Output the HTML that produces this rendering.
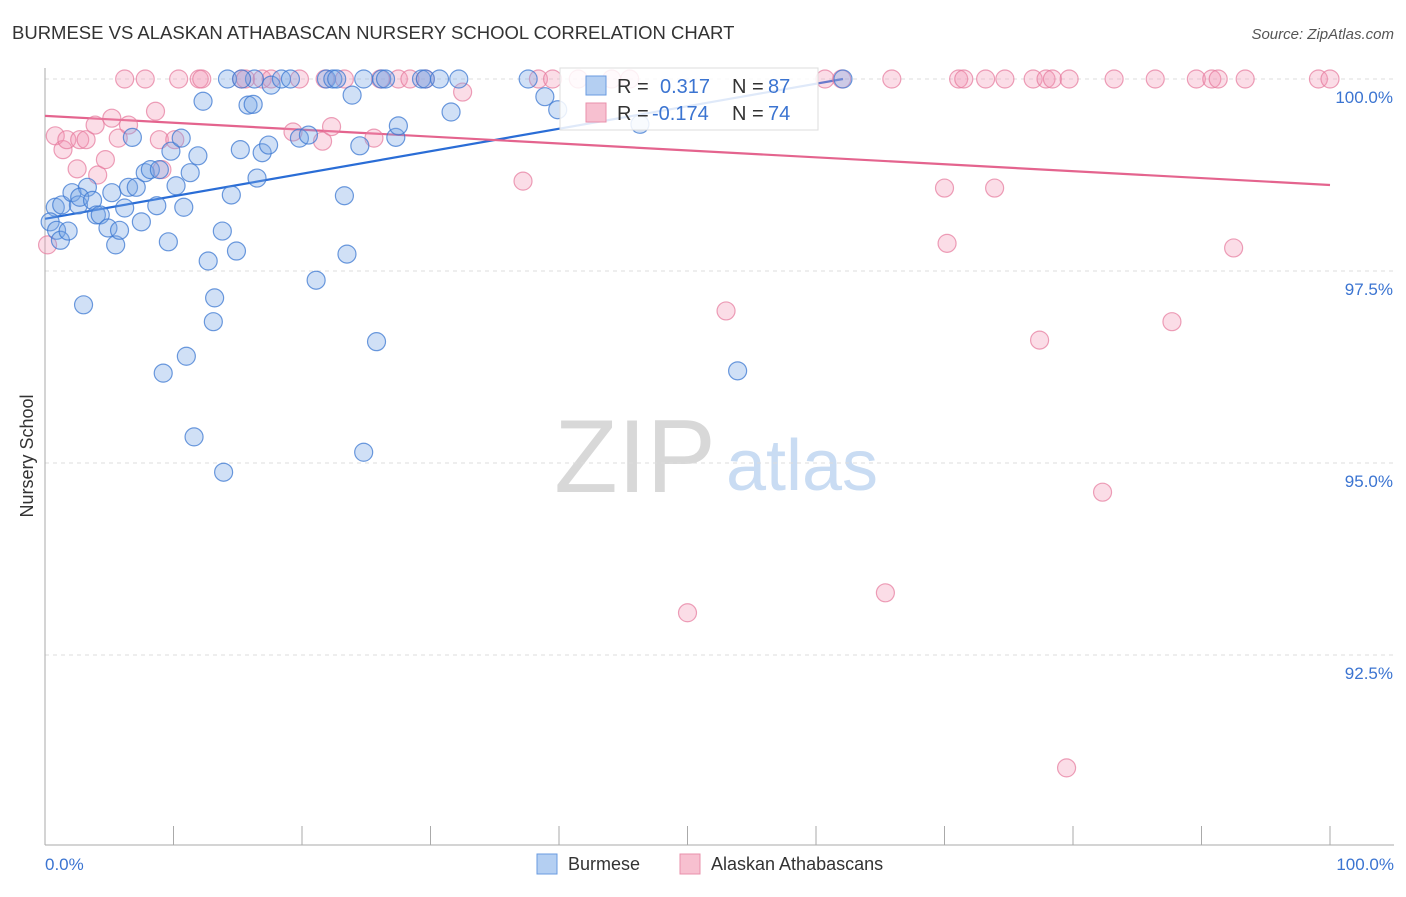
<!DOCTYPE html>
<html><head><meta charset="utf-8"><style>
body{margin:0;background:#fff;font-family:"Liberation Sans",sans-serif;}
svg text{font-family:"Liberation Sans",sans-serif;}
</style></head><body>
<svg id="chart" width="1406" height="892">
<text x="12" y="39" font-size="18.5" fill="#333">BURMESE VS ALASKAN ATHABASCAN NURSERY SCHOOL CORRELATION CHART</text>
<text x="1394" y="39" font-size="15" fill="#555" font-style="italic" text-anchor="end">Source: ZipAtlas.com</text>
<g><text x="635" y="492" font-size="104" fill="#d8d8d8" font-family="Liberation Serif,serif" text-anchor="middle">ZIP</text><text x="802" y="490" font-size="72" fill="#c9dcf3" text-anchor="middle">atlas</text></g>
<text transform="translate(33,456) rotate(-90)" font-size="18" fill="#333" text-anchor="middle">Nursery School</text>
<g id="grid"></g><g id="axes"></g><g id="trend"></g><g id="pts"></g>
<g>
<rect x="560" y="68" width="258" height="62" fill="#fff" fill-opacity="0.85" stroke="#ddd"/>
<rect x="586" y="76" width="20" height="19" fill="#b4cff2" stroke="#6a9be0"/>
<rect x="586" y="103" width="20" height="19" fill="#f7c0d0" stroke="#e890ab"/>
<text x="617" y="93" font-size="20" fill="#333">R = </text><text x="660" y="93" font-size="20" fill="#3b74d1">0.317</text>
<text x="732" y="93" font-size="20" fill="#333">N = </text><text x="768" y="93" font-size="20" fill="#3b74d1">87</text>
<text x="617" y="120" font-size="20" fill="#333">R = </text><text x="652" y="120" font-size="20" fill="#3b74d1">-0.174</text>
<text x="732" y="120" font-size="20" fill="#333">N = </text><text x="768" y="120" font-size="20" fill="#3b74d1">74</text>
</g>
<g>
<rect x="537" y="854" width="20" height="20" fill="#b4cff2" stroke="#6a9be0"/>
<text x="568" y="870" font-size="18" fill="#333">Burmese</text>
<rect x="680" y="854" width="20" height="20" fill="#f7c0d0" stroke="#e890ab"/>
<text x="711" y="870" font-size="18" fill="#333">Alaskan Athabascans</text>
</g>
</svg>
<script>
const yTicks=[100,97.5,95,92.5];
const yTickLabels=["100.0%","97.5%","95.0%","92.5%"];
const blueX=[0.8,0.4,0.9,1.2,1.8,1.3,2.1,2.6,3.3,2.7,3.7,4.0,4.3,4.9,5.2,5.5,5.8,6.2,6.5,6.8,7.1,7.5,7.8,8.2,8.7,8.9,9.6,9.8,10.2,10.6,10.8,11.3,11.9,12.3,12.7,13.2,13.1,13.8,14.5,14.9,15.2,15.8,16.2,16.5,16.9,17.4,17.6,19.8,20.5,21.1,21.9,22.4,22.7,23.3,23.5,23.9,24.5,24.8,25.8,26.2,26.5,27.3,27.5,29.3,29.6,31.6,32.2,37.6,38.9,39.9,9.2,11.0,11.6,13.9,3.0,24.8,53.9,46.3,62.1,14.2,16.3,18.4,19.1,15.3,30.7];
const blueY=[98.33,98.14,98.03,97.90,98.02,98.36,98.52,98.36,98.59,98.46,98.42,98.23,98.23,98.06,98.52,97.84,98.03,98.32,98.59,99.24,98.59,98.14,98.78,98.82,98.35,98.82,97.88,99.06,98.61,99.23,98.33,98.78,99.00,99.71,97.63,97.15,96.84,98.02,98.49,97.76,99.08,99.66,99.67,98.71,99.04,99.14,99.92,99.23,99.27,97.38,100,100,100,98.48,97.72,99.79,99.13,100,96.58,100,100,99.24,99.39,100,100,99.57,100,100,99.77,99.60,96.17,96.39,95.34,94.88,97.06,95.14,96.20,99.41,100,100,100,100,100,100,100];
const pinkX=[6.2,7.8,10.4,12.0,12.2,15.3,15.6,16.9,17.6,19.8,21.8,23.3,26.1,27.5,28.4,29.6,38.4,39.5,41.5,44.1,45.5,60.7,62.0,65.9,71.1,71.5,73.2,74.7,76.9,77.9,78.4,79.7,83.2,86.4,89.6,90.8,91.3,93.4,99.1,100,0.8,1.4,1.7,2.5,2.7,3.2,3.9,4.1,4.7,5.2,5.7,6.5,8.6,8.9,9.1,10.1,19.3,21.6,22.3,25.6,32.5,37.2,70.0,73.9,70.2,92.5,53.0,77.4,87.7,82.3,50.0,65.4,79.5,0.2];
const pinkY=[100,100,100,100,100,100,100,100,100,100,100,100,100,100,100,100,100,100,100,100,100,100,100,100,100,100,100,100,100,100,100,100,100,100,100,100,100,100,100,100,99.26,99.08,99.21,98.83,99.21,99.21,99.40,98.75,98.95,99.49,99.23,99.40,99.58,99.21,98.82,99.21,99.31,99.19,99.38,99.23,99.83,98.67,98.58,98.58,97.86,97.80,96.98,96.60,96.84,94.62,93.05,93.31,91.03,97.84];
const blueTrend=[[0,98.18],[62.1,100]];
const pinkTrend=[[0,99.52],[100,98.62]];
const NS="http://www.w3.org/2000/svg";
const X=v=>45+v*12.85, Y=v=>79+(100-v)*76.8;
function mk(t,a,p){const e=document.createElementNS(NS,t);for(const k in a)e.setAttribute(k,a[k]);p.appendChild(e);return e;}
const grid=document.getElementById('grid'),axes=document.getElementById('axes'),trend=document.getElementById('trend'),pts=document.getElementById('pts');
yTicks.forEach((t,i)=>{
 const l=mk('line',{x1:45,x2:1394,y1:Y(t),y2:Y(t),stroke:'#ddd','stroke-dasharray':'4,4'},grid);
 
 
 const tx=mk('text',{x:1393,y:Y(t)+24,'font-size':17,fill:'#3b74d1','text-anchor':'end'},grid);
 tx.textContent=yTickLabels[i];
 
 
});
const ya=mk('line',{x1:45,x2:45,y1:68,y2:845,stroke:'#aaa'},axes);


const xa=mk('line',{x1:45,x2:1394,y1:845,y2:845,stroke:'#aaa'},axes);


for(let i=0;i<=10;i++){const t=mk('line',{x1:X(i*10),x2:X(i*10),y1:826,y2:845,stroke:'#aaa'},axes);
 
 }
[[0,"0.0%","start",45],[100,"100.0%","end",1394]].forEach(d=>{const t=mk('text',{x:d[3],y:870,'font-size':17,fill:'#3b74d1','text-anchor':d[2]},axes);t.textContent=d[1];
 
 });
function dots(xs,ys,fill,stroke,name){xs.forEach((x,i)=>{const c=mk('circle',{cx:X(x),cy:Y(ys[i]),r:9,fill:fill,stroke:stroke,'stroke-width':1.2},pts);
 
 });}
dots(pinkX,pinkY,'rgba(242,150,180,0.32)','rgba(230,120,155,0.7)','alaskan-point');
dots(blueX,blueY,'rgba(120,165,230,0.35)','rgba(60,120,210,0.75)','burmese-point');
const bl=mk('line',{x1:X(blueTrend[0][0]),y1:Y(blueTrend[0][1]),x2:X(blueTrend[1][0]),y2:Y(blueTrend[1][1]),stroke:'#2a6dd6','stroke-width':2.2},trend);


const pl=mk('line',{x1:X(pinkTrend[0][0]),y1:Y(pinkTrend[0][1]),x2:X(pinkTrend[1][0]),y2:Y(pinkTrend[1][1]),stroke:'#e4648e','stroke-width':2.2},trend);


</script>
</body></html>
